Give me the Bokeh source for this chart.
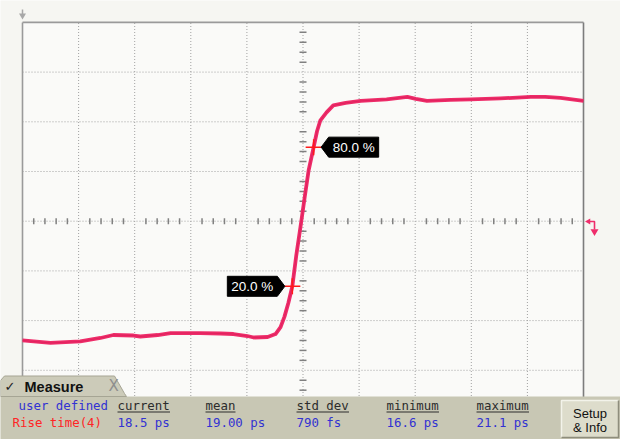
from math import pi
from bokeh.plotting import figure
from bokeh.models import Range1d
from bokeh.core.properties import value
from bokeh.embed import file_html
from bokeh.resources import INLINE

# ---------------- data (screen divisions: x 0..10, y -4..4) ----------------
time_div = [0.00, 0.50, 1.03, 1.39, 1.62, 1.98, 2.10, 2.41, 2.64, 3.17, 3.53, 3.76,
            4.01, 4.12, 4.37, 4.51, 4.60, 4.67, 4.74, 4.81, 4.88, 4.97, 5.03, 5.10,
            5.19, 5.25, 5.31, 5.42, 5.54, 5.76, 6.03, 6.49, 6.86, 7.01, 7.21, 7.63,
            7.99, 8.52, 9.06, 9.32, 9.59, 10.00]
volt_div = [-2.40, -2.45, -2.42, -2.35, -2.29, -2.30, -2.32, -2.29, -2.25, -2.25, -2.26, -2.27,
            -2.31, -2.34, -2.33, -2.27, -2.13, -1.92, -1.64, -1.31, -0.69, 0.00, 0.48, 1.02,
            1.49, 1.81, 2.03, 2.19, 2.33, 2.38, 2.42, 2.45, 2.50, 2.46, 2.42, 2.44,
            2.45, 2.47, 2.50, 2.50, 2.48, 2.42]
cross_x = [4.81, 5.19]
cross_y = [-1.31, 1.49]
cross_labels = ["20.0 %", "80.0 %"]
x_divs = [0, 1, 2, 3, 4, 5, 6, 7, 8, 9, 10]
y_divs = [-4, -3, -2, -1, 0, 1, 2, 3, 4]
meas_headers = ["current", "mean", "std dev", "minimum", "maximum"]
meas_values = ["18.5 ps", "19.00 ps", "790 fs", "16.6 ps", "21.1 ps"]
source_name = "user defined"
meas_name = "Rise time(4)"

# ---------------- layout helpers (reference pixels -> divisions) ----------------
W, H = 620, 439
X0, XS, Y0, YS = 22.0, 56.1, 220.7, 49.7
def dx(px): return (px - X0) / XS
def dy(py): return (Y0 - py) / YS
def pw(w): return w / XS
def ph(h): return h / YS

BG = "#f6f6f2"
p = figure(width=W, height=H, x_range=Range1d(dx(0), dx(W)), y_range=Range1d(dy(H), dy(0)),
           output_backend="svg", toolbar_location=None, x_axis_type=None, y_axis_type=None,
           min_border=0, background_fill_color=BG, border_fill_color=BG, outline_line_color=None)

# graticule area
p.quad(left=[x_divs[0]], right=[x_divs[-1]], bottom=[y_divs[0]], top=[y_divs[-1]],
       fill_color="#fafaf8", line_color=None)
inner_x = x_divs[1:-1]
inner_y = y_divs[1:-1]
p.segment(x0=inner_x, y0=[y_divs[0]] * len(inner_x), x1=inner_x, y1=[y_divs[-1]] * len(inner_x),
          line_color="#a2a2a2", line_width=1, line_dash="1 2")
p.segment(x0=[x_divs[0]] * len(inner_y), y0=inner_y, x1=[x_divs[-1]] * len(inner_y), y1=inner_y,
          line_color="#a2a2a2", line_width=1, line_dash="1 2")
# minor ticks on the centre axes
xc, yc = 5, 0
mx = [i * 0.2 for i in range(1, 50) if i % 5]
my = [-4 + i * 0.2 for i in range(1, 40) if i % 5]
p.segment(x0=mx, y0=[yc - ph(3)] * len(mx), x1=mx, y1=[yc + ph(3)] * len(mx),
          line_color="#808080", line_width=1.5)
p.segment(x0=[xc - pw(3.5)] * len(my), y0=my, x1=[xc + pw(3.5)] * len(my), y1=my,
          line_color="#808080", line_width=1.5)
# borders
p.segment(x0=[0, 0], y0=[-4, 4], x1=[0, 10], y1=[4, 4],
          line_color="#9a9a9a", line_width=1.6)
p.segment(x0=[10], y0=[-4], x1=[10], y1=[4], line_color="#7c7c7c", line_width=1.6)

# top-left marker
p.segment(x0=[dx(22)], y0=[dy(9)], x1=[dx(22)], y1=[dy(15)], line_color="#a8a8a8", line_width=1.5)
p.scatter(x=[dx(22)], y=[dy(15)], marker="inverted_triangle", size=7,
          fill_color="#a8a8a8", line_color=None)

# trigger level marker (right)
p.line(x=[dx(588), dx(594), dx(594)], y=[dy(221), dy(221), dy(229)], line_color="#ef2d6b", line_width=1.6)
p.scatter(x=[dx(588)], y=[dy(221)], marker="triangle", angle=pi / 2, size=6,
          fill_color="#ef2d6b", line_color=None)
p.scatter(x=[dx(594)], y=[dy(231)], marker="inverted_triangle", size=8,
          fill_color="#ef2d6b", line_color=None)

# waveform
p.line(x=time_div, y=volt_div, line_color="#ee2c69", line_width=3.8, line_join="round")
p.line(x=time_div, y=volt_div, line_color="#c8124c", line_width=0.8, line_alpha=0.45)

# measurement crosses and callouts
p.scatter(x=cross_x, y=cross_y, marker="cross", size=16, line_color="#ff1a1a", line_width=1.5)
for cx, cy, lab, side in zip(cross_x, cross_y, cross_labels, [-1, 1]):
    offs = [(7.5, 0), (15, -10), (65, -10), (65, 10), (15, 10)]
    xs = [cx + side * pw(ox) for ox, oy in offs]
    ys = [cy - ph(oy) for ox, oy in offs]
    p.patch(x=xs, y=ys, fill_color="#000000", line_color="#000000", line_width=1)
    p.text(x=[cx + side * pw(40)], y=[cy], text=[lab], text_color="#ffffff",
           text_font=value("Liberation Sans"), text_font_size=value("13.5px"),
           text_align="center", text_baseline="middle")

# ---------------- bottom measurement panel ----------------
PANEL = "#c8c7b4"
p.quad(left=[dx(-10)], right=[dx(630)], top=[dy(396)], bottom=[dy(450)],
       fill_color=PANEL, line_color=None)
tab_px = [(0, 396), (0, 380), (4, 375.5), (114, 375.5), (124, 393), (126, 396)]
p.patch(x=[dx(a) for a, b in tab_px], y=[dy(b) for a, b in tab_px],
        fill_color="#cccbb9", line_color="#a6a594", line_width=1)
p.text(x=[dx(4)], y=[dy(386)], text=["\u2713"], text_color="#202020",
       text_font=value("DejaVu Sans"), text_font_size=value("13px"),
       text_align="left", text_baseline="middle")
p.text(x=[dx(24)], y=[dy(386)], text=["Measure"], text_color="#111111",
       text_font=value("Liberation Sans"), text_font_size=value("14.5px"), text_font_style="bold",
       text_align="left", text_baseline="middle")
p.text(x=[dx(108)], y=[dy(385)], text=["X"], text_color="#8e8e8e",
       text_font=value("DejaVu Sans"), text_font_size=value("15px"),
       text_align="left", text_baseline="middle")

col_px = [117, 205, 296, 386, 476]
CW = 7.5
mono = dict(text_font=value("DejaVu Sans Mono"), text_font_size=value("12.4px"),
            text_align="left", text_baseline="middle")
p.text(x=[dx(18)], y=[dy(405)], text=[source_name], text_color="#3232d2", **mono)
p.text(x=[dx(12)], y=[dy(421.5)], text=[meas_name], text_color="#ff2424", **mono)
p.text(x=[dx(c) for c in col_px], y=[dy(405)] * len(col_px), text=meas_headers,
       text_color="#2c2c2c", **mono)
p.segment(x0=[dx(c) for c in col_px], y0=[dy(411.5)] * len(col_px),
          x1=[dx(c + CW * len(h)) for c, h in zip(col_px, meas_headers)], y1=[dy(411.5)] * len(col_px),
          line_color="#2c2c2c", line_width=1)
p.text(x=[dx(c) for c in col_px], y=[dy(421.5)] * len(col_px), text=meas_values,
       text_color="#3232d2", **mono)

# Setup & Info button
p.quad(left=[dx(561)], right=[dx(618)], top=[dy(400)], bottom=[dy(437)],
       fill_color="#dddccb", line_color=None)
p.line(x=[dx(561), dx(561), dx(618)], y=[dy(437), dy(400), dy(400)], line_color="#f3f3ea", line_width=1.5)
p.line(x=[dx(561), dx(618), dx(618)], y=[dy(437), dy(437), dy(400)], line_color="#8e8d7c", line_width=1.5)
p.text(x=[dx(589.5), dx(589.5)], y=[dy(412.5), dy(427)], text=["Setup", "& Info"], text_color="#111111",
       text_font=value("Liberation Sans"), text_font_size=value("13px"),
       text_align="center", text_baseline="middle")

open("out.html", "w").write(file_html(p, INLINE))
